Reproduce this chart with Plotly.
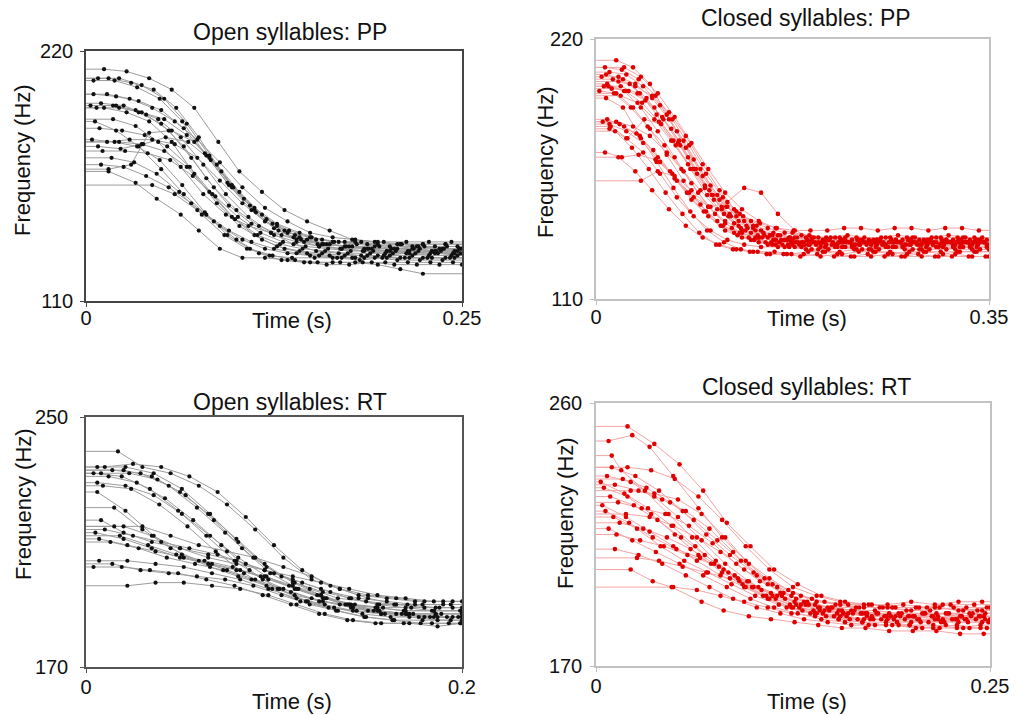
import plotly.graph_objects as go

W, H = 1022, 715

# ---------------- data (time in ms, F0 in Hz), one contour per row ----------------
# Panel 1: Open syllables: PP
OPEN_PP_T = [
    [12,27,42,57,72,88,102,117,132,147,162,177,192,207,221,238],
    [8,22,37,52,67,82,97,112,127,142,157,172,187,202,217,232,247],
    [15,30,45,60,75,90,105,120,135,150,165,180,195,210,225,240],
    [5,19,34,49,64,79,94,109,124,139,154,169,184,199,214,229,244],
    [14,29,44,59,74,89,104,119,134,149,164,179,194,209,224,239],
    [10,25,40,55,70,85,100,115,130,145,160,175,190,205,220,235,249],
    [3,18,33,48,63,78,93,108,123,138,153,168,183,198,213,228,243],
    [20,35,50,65,80,95,110,125,140,155,170,185,200,215,230,245],
    [7,22,37,52,67,82,97,112,127,142,157,172,187,202,217,232,247],
    [12,27,42,57,72,87,102,117,132,147,162,177,192,207,222,237],
    [18,33,48,63,78,93,108,123,138,153,168,183,198,213,228,243],
    [6,20,35,50,65,80,95,110,125,140,155,170,185,200,215,230,245],
    [15,30,42,57,72,87,102,117,132,147,162,177,192,207,222,237],
    [9,24,39,54,69,84,99,114,129,144,159,174,189,204,219,234,249],
    [4,19,34,49,64,79,94,109,124,139,154,169,184,199,214,229,244],
    [14,29,44,59,74,89,104,119,134,149,164,179,194,209,224,239],
    [22,37,52,67,82,97,112,127,142,157,172,187,202,217,232,247],
    [8,23,38,53,68,83,98,113,128,143,158,173,188,203,218,233,248],
    [11,26,41,56,71,86,101,116,131,146,161,176,191,206,221,236],
    [17,32,47,62,77,92,107,122,137,152,167,182,197,212,227,242],
    [10,25,40,55,70,85,100,115,130,145,160,175,190,205,220,235,250],
    [15,33,47,63,75,89,104,119,134,149,164,179,194,209,224],
    [44,59,74,89,104,119,134,149,164,179,194,209,224,239],
    [5,20,35,50,65,80,95,110,125,140,155,170,185,200,215,230,245],
]
OPEN_PP_F = [
    [212,211,208,203,195,180,167,158,150,145,141,137,136,135,134,133],
    [208,208,205,199,188,174,160,150,143,138,135,134,133,132,133,132,132],
    [208,206,203,195,182,167,155,146,141,138,136,135,134,135,134,134],
    [207,207,204,199,189,175,162,152,144,139,135,133,132,131,132,131,131],
    [201,199,195,189,181,171,160,151,145,140,138,137,136,135,135,135],
    [197,196,192,185,173,160,150,143,139,136,135,134,133,133,134,133,133],
    [196,196,194,190,182,170,157,147,140,135,132,131,130,130,131,130,130],
    [196,193,188,178,164,152,144,139,136,134,133,133,132,132,132,132],
    [195,195,193,190,183,173,161,151,144,140,137,136,135,134,134,134,134],
    [195,193,189,180,166,153,143,137,133,131,130,129,129,128,128,128],
    [190,187,180,169,157,148,143,140,138,137,136,136,136,136,136,136],
    [189,185,178,168,157,148,141,136,133,131,130,129,129,129,129,129,129],
    [168,170,184,185,180,170,158,148,141,137,135,134,134,133,133,133],
    [186,185,183,178,169,157,146,139,135,133,132,131,131,131,131,131,131],
    [181,180,178,172,161,149,139,133,130,128,127,127,127,127,127,127,127],
    [180,181,181,179,173,163,153,145,140,138,136,136,135,135,135,135],
    [180,179,176,169,158,147,139,134,132,131,130,130,130,130,131,130],
    [178,177,179,182,180,172,160,149,141,137,135,134,133,133,133,132,133],
    [176,176,175,172,165,156,147,140,136,134,133,132,132,132,132,132],
    [173,171,166,158,148,139,133,130,129,129,129,128,129,129,129,129],
    [170,169,165,160,153,145,137,131,128,127,126,126,127,126,126,126,126],
    [167,162,155,148,141,133,129,129,128,127,127,127,126,124,122],
    [161,157,150,143,137,133,131,130,129,129,130,129,129,129],
    [201,200,198,194,186,174,161,150,142,137,134,133,132,132,131,132,131],
]

# Panel 2: Closed syllables: PP
CLOSED_PP_T = [
    [18,33,48,63,78,93,108,123,138,153,168,183,198,213,228,243,258,273,288,303,318,333,348],
    [8,23,38,53,68,83,98,113,128,143,158,173,188,203,218,233,248,263,278,293,308,323,338],
    [12,27,42,57,72,87,102,117,132,147,162,177,192,207,222,237,252,267,282,297,312,327,342],
    [5,20,35,50,65,80,95,110,125,140,155,170,185,200,215,230,245,260,275,290,305,320,335,350],
    [15,30,45,60,75,90,105,120,135,150,165,180,195,210,225,240,255,270,285,300,315,330,345],
    [20,35,50,65,80,95,110,125,140,155,170,185,200,215,230,245,260,275,290,305,320,335,350],
    [10,25,40,55,70,85,100,115,130,145,160,175,190,205,220,235,250,265,280,295,310,325,340],
    [7,22,37,52,67,82,97,112,127,142,157,172,187,202,217,232,247,262,277,292,307,322,337],
    [14,29,44,59,74,89,104,119,134,149,164,179,194,209,224,239,254,269,284,299,314,329,344],
    [3,18,33,48,63,78,93,108,123,138,153,168,183,198,213,228,243,258,273,288,303,318,333,348],
    [16,31,46,61,76,91,106,121,136,151,166,181,196,211,226,241,256,271,286,301,316,331,346],
    [9,24,39,54,69,84,99,114,129,144,159,174,189,204,219,234,249,264,279,294,309,324,339],
    [10,25,40,55,70,85,100,115,130,145,160,175,190,205,220,235,250,265,280,295,310,325,340],
    [6,21,36,51,66,81,96,111,126,141,156,171,186,201,216,231,246,261,276,291,306,321,336],
    [13,28,43,58,73,88,103,118,133,148,163,178,193,208,223,238,253,268,283,298,313,328,343],
    [12,27,42,57,72,87,102,117,132,147,162,177,192,207,222,237,252,267,282,297,312,327,342],
    [17,32,47,62,77,92,107,122,137,152,167,182,197,212,227,242,257,272,287,302,317,332,347],
    [8,23,38,53,68,83,98,113,128,143,158,173,188,203,218,233,248,263,278,293,308,323,338],
    [40,55,70,85,100,115,130,145,160,175,190,205,220,235,250,265,280,295,310,325,340],
    [12,27,42,57,72,87,102,117,132,147,162,177,192,207,222,237,252,267,282,297,312,327,342],
    [20,35,50,65,80,95,110,125,140,155,170,185,200,215,230,245,260,275,290,305,320,335,350],
    [25,40,55,70,85,100,115,130,145,160,175,190,205,220,235,250,265,280,295,310,325,340],
    [9,24,39,54,69,84,99,114,129,144,159,174,189,204,219,234,249,264,279,294,309,324,339],
    [11,26,41,56,71,86,101,116,131,146,161,176,191,206,221,236,251,266,281,296,311,326,341],
    [22,37,52,67,82,97,112,127,142,157,172,187,202,217,232,247,262,277,292,307,322,337],
    [18,33,48,63,78,93,108,123,138,153,168,183,198,213,228,243,258,273,288,303,318,333,348],
]
CLOSED_PP_F = [
    [211,208,201,188,177,165,154,148,143,140,138,137,136,136,135,135,136,135,135,136,135,135,135],
    [208,207,203,196,186,175,163,153,146,141,138,136,135,134,134,135,134,134,135,134,134,134,134],
    [206,205,200,192,181,169,158,149,143,139,137,136,135,135,136,135,135,135,136,135,135,136,135],
    [204,204,201,195,186,174,162,152,145,140,137,135,134,133,133,133,133,132,133,133,132,133,133,133],
    [203,201,195,186,175,163,152,145,140,137,135,134,134,133,134,134,133,134,134,133,134,134,134],
    [202,200,196,189,179,167,156,147,141,137,135,133,132,132,131,131,132,131,131,132,131,131,131],
    [201,198,191,181,170,159,149,142,138,136,135,135,134,135,134,134,135,134,135,134,134,135,134],
    [200,200,197,191,182,170,158,148,141,136,133,132,131,130,130,131,130,130,129,130,130,130,130],
    [199,198,194,187,177,165,154,146,141,138,137,136,136,136,137,136,136,137,136,136,137,136,136],
    [198,197,191,182,171,160,150,143,138,135,133,132,132,131,132,132,131,132,132,131,132,132,132,132],
    [197,191,183,175,165,155,146,140,136,134,133,133,133,134,134,133,134,134,133,134,134,134,134],
    [195,191,179,168,157,147,139,134,131,130,130,129,130,130,129,130,130,129,130,130,129,130,130],
    [186,183,178,170,161,152,145,139,136,134,133,133,133,133,132,133,133,132,133,133,133,132,133],
    [185,184,180,173,164,155,147,141,137,135,134,133,133,134,134,133,134,134,133,134,133,134,134],
    [183,178,186,184,176,165,154,145,139,136,134,134,134,135,134,134,135,134,134,135,134,134,135],
    [182,178,172,163,153,145,139,135,133,132,132,132,131,131,132,131,131,132,131,131,131,132,131],
    [181,174,165,155,146,138,133,131,130,129,129,128,129,128,128,129,128,128,129,128,128,128,128],
    [172,170,171,169,163,155,147,141,138,136,135,135,135,134,135,135,134,135,135,134,135,135,135],
    [160,164,162,156,149,143,139,136,135,134,133,133,134,133,133,134,133,133,134,133,133],
    [184,181,176,168,160,153,149,151,157,155,146,139,136,135,135,134,134,135,134,134,135,134,134],
    [170,164,156,148,141,136,133,131,130,129,129,129,128,129,128,128,129,128,128,128,129,128,128],
    [208,204,197,187,176,165,155,148,143,140,138,137,136,135,135,135,134,135,135,134,135,135],
    [205,203,197,188,177,165,154,146,140,137,135,134,133,132,132,133,132,132,133,132,132,132,132],
    [200,198,193,185,175,165,156,149,145,142,140,139,139,139,140,140,139,140,140,139,140,140,139],
    [196,193,186,177,167,157,149,143,139,137,136,136,135,136,136,135,136,136,135,136,136,136],
    [185,183,179,172,164,156,148,142,138,136,135,134,134,133,133,134,133,133,133,134,133,133,133],
]

# Panel 3: Open syllables: RT
OPEN_RT_T = [
    [17,30,45,60,75,90,105,120,135,150,165,180,195],
    [10,25,40,55,70,85,100,115,130,145,160,175,190],
    [6,21,36,51,66,81,96,111,126,141,156,171,186,200],
    [14,29,44,59,74,89,104,119,134,149,164,179,194],
    [20,35,50,65,80,95,110,125,140,155,170,185,200],
    [8,23,38,53,68,83,98,113,128,143,158,173,188],
    [4,19,34,49,64,79,94,109,124,139,154,169,184,199],
    [12,27,42,57,72,87,102,117,132,147,162,177,192],
    [6,21,36,51,66,81,96,111,126,141,156,171,186,200],
    [9,24,39,54,69,84,99,114,129,144,159,174,189],
    [6,21,36,51,66,81,96,111,126,141,156,171,186,200],
    [15,30,45,60,75,90,105,120,135,150,165,180,195],
    [8,20,35,50,65,80,95,110,125,140,155,170,185,200],
    [15,30,45,60,75,90,105,120,135,150,165,180,195],
    [10,25,40,55,70,85,100,115,130,145,160,175,190],
    [5,20,35,50,65,80,95,110,125,140,155,170,185,200],
    [18,33,48,63,78,93,108,123,138,153,168,183,198],
    [7,22,37,52,67,82,97,112,127,142,157,172,187,200],
    [13,28,43,58,73,88,103,118,133,148,163,178,193],
    [7,22,37,52,67,82,97,112,127,142,157,172,187,200],
    [14,29,44,59,74,89,104,119,134,149,164,179,194],
    [4,19,34,49,64,79,94,109,124,139,154,169,184,199],
    [22,37,52,67,82,97,112,127,142,157,172,187,200],
    [20,35,50,65,80,95,110,125,140,155,170,185,200],
]
OPEN_RT_F = [
    [239,234,232,228,222,214,205,198,195,193,192,191,191],
    [234,235,234,231,226,218,209,201,196,193,192,191,191],
    [234,234,232,227,219,210,202,197,194,192,190,190,189,189],
    [233,232,228,221,213,205,199,195,192,191,190,190,190],
    [233,231,226,219,211,203,197,193,190,189,188,188,188],
    [232,232,230,225,217,208,200,195,192,190,189,189,189],
    [232,231,227,220,212,204,198,194,191,190,189,188,188,188],
    [231,229,224,217,209,201,195,191,189,187,186,186,186],
    [229,228,225,219,212,205,199,195,192,190,188,187,187,187],
    [228,227,222,215,207,200,195,191,189,188,187,187,187],
    [226,220,212,206,202,199,196,193,191,189,188,187,187,187],
    [221,214,208,204,201,198,195,192,190,188,187,186,186],
    [217,213,210,208,206,204,201,198,195,192,190,189,188,188],
    [215,215,212,209,207,205,202,199,195,192,190,189,189],
    [214,212,210,208,206,203,200,197,194,192,191,190,190],
    [213,211,208,205,203,201,199,196,193,190,188,187,186,186],
    [212,209,206,204,202,199,196,193,190,188,187,186,186],
    [211,209,207,205,203,201,198,195,192,189,187,186,185,185],
    [210,208,205,203,201,198,195,191,188,186,185,184,184],
    [204,204,203,202,200,198,195,192,190,188,187,187,186,186],
    [203,201,200,199,198,196,193,190,188,186,185,185,185],
    [202,202,201,200,198,196,193,190,187,185,184,184,184,184],
    [196,197,197,196,195,193,190,187,185,184,184,183,184],
    [215,212,208,205,203,201,199,197,195,193,192,191,191],
]

# Panel 4: Closed syllables: RT
CLOSED_RT_T = [
    [20,37,53,68,83,98,113,128,143,158,173,188,203,218,233,248],
    [8,23,34,49,65,80,95,110,125,140,155,170,185,200,215,230,245],
    [10,16,31,46,61,76,91,106,121,136,151,166,181,196,211,226,241],
    [10,25,40,55,70,85,100,115,130,145,160,175,190,205,220,235,250],
    [7,22,37,52,67,82,97,112,127,142,157,172,187,202,217,232,247],
    [17,32,47,62,77,92,107,122,137,152,167,182,197,212,227,242],
    [12,27,42,57,72,87,102,117,132,147,162,177,192,207,222,237],
    [5,20,35,50,65,80,95,110,125,140,155,170,185,200,215,230,245],
    [22,37,52,67,82,97,112,127,142,157,172,187,202,217,232,247],
    [9,24,39,54,69,84,99,114,129,144,159,174,189,204,219,234,249],
    [14,29,44,59,74,89,104,119,134,149,164,179,194,209,224,239],
    [4,19,34,49,64,79,94,109,124,139,154,169,184,199,214,229,244],
    [6,21,36,51,66,81,96,111,126,141,156,171,186,201,216,231,246],
    [19,34,49,64,79,94,109,124,139,154,169,184,199,214,229,244],
    [11,26,41,56,71,86,101,116,131,146,161,176,191,206,221,236],
    [15,30,45,60,75,90,105,120,135,150,165,180,195,210,225,240],
    [8,23,38,53,68,83,98,113,128,143,158,173,188,203,218,233,248],
    [13,28,43,58,73,88,103,118,133,148,163,178,193,208,223,238],
    [26,40,55,70,85,100,115,130,145,160,175,190,205,220,235,250],
    [22,36,48,67,81,97,111,126,141,156,171,186,201,216,231,246],
    [49,64,79,94,109,124,139,154,169,184,199,214,229,244],
    [12,27,42,57,72,87,102,117,132,147,162,177,192,207,222,237],
    [20,35,50,65,80,95,110,125,140,155,170,185,200,215,230,245],
    [3,18,33,48,63,78,93,108,123,138,153,168,183,198,213,228,243],
]
CLOSED_RT_F = [
    [252,246,239,230,219,211,203,198,194,192,191,190,190,190,189,190],
    [247,249,245,235,224,214,206,200,195,192,191,190,190,189,190,189,189],
    [242,237,230,222,214,206,199,194,190,188,187,186,186,186,185,186,186],
    [238,235,230,223,215,208,202,197,194,192,191,191,190,190,191,190,190],
    [235,233,228,221,213,205,199,194,191,189,188,188,187,187,187,187,188],
    [234,231,226,220,213,206,200,196,193,191,190,190,189,189,190,189],
    [232,230,227,223,217,209,201,195,192,190,189,189,188,188,188,188],
    [231,228,222,215,208,202,197,193,190,188,187,186,186,185,186,185,185],
    [230,229,227,222,214,205,198,193,190,188,187,187,187,186,187,186],
    [228,225,220,214,208,202,197,193,190,188,187,186,186,186,185,186,185],
    [226,224,222,218,212,205,199,195,192,190,189,188,188,188,188,188],
    [225,221,216,211,206,201,197,193,190,188,186,185,184,184,183,184,183],
    [223,219,214,210,207,203,199,195,192,190,189,188,188,187,188,187,187],
    [222,221,218,214,209,203,198,194,191,189,188,187,187,187,186,187],
    [221,217,211,206,202,198,194,191,189,187,186,186,185,185,185,185],
    [219,217,214,210,205,200,196,193,191,190,190,190,191,190,191,191],
    [217,213,209,205,201,197,193,190,188,186,185,184,184,183,183,183,183],
    [215,213,211,208,205,201,197,194,191,189,188,188,187,188,188,187],
    [207,206,204,202,200,197,194,191,189,188,187,187,186,186,186,186],
    [203,199,197,192,189,187,186,185,184,183,183,182,182,182,181,181],
    [197,196,194,192,190,188,187,186,185,185,184,184,183,184],
    [210,208,205,201,197,193,190,188,186,185,184,184,184,183,184,183],
    [238,237,234,228,220,211,203,197,194,192,191,191,192,191,192,192],
    [233,229,224,218,211,204,198,194,191,189,188,188,187,187,187,186,187],
]

TITLES = ["Open syllables: PP", "Closed syllables: PP", "Open syllables: RT", "Closed syllables: RT"]
X_MAX = [0.25, 0.35, 0.2, 0.25]
X_MAX_TEXT = ["0.25", "0.35", "0.2", "0.25"]
Y_RANGE = [(110, 220), (110, 220), (170, 250), (170, 260)]

# ---------------- styling / layout (pixels) ----------------
FONT = "Liberation Sans, Arial, Helvetica, sans-serif"
BOX = [(86, 51, 462, 301), (596, 39, 989, 299), (86, 417, 462, 667), (596, 403, 990, 666)]
TITLE_POS = [(290, 32), (806, 18), (290, 402), (806, 387)]
XLAB_POS = [(292, 321), (807, 318), (292, 701), (807, 701)]
YLAB_POS = [(23, 160), (545, 162), (23, 504), (565, 513)]
XTICK_STANDOFF = [-6, -5, -3, -3]
YTICK_STANDOFF = [3, 3, 8, 4]
MARK_COL = ["#111111", "#e00000", "#111111", "#e00000"]
MARK_SIZE = [4.2, 4.6, 4.2, 4.6]
LINE_COL = ["#9c9c9c", "#f4a4a4", "#9c9c9c", "#f4a4a4"]
FRAME_COL = ["#444444", "#c2c2c2", "#555555", "#c2c2c2"]

data_sets = [(OPEN_PP_T, OPEN_PP_F), (CLOSED_PP_T, CLOSED_PP_F),
             (OPEN_RT_T, OPEN_RT_F), (CLOSED_RT_T, CLOSED_RT_F)]

fig = go.Figure()
annotations = []
layout = {}

for i, (Ts, Fs) in enumerate(data_sets):
    n = i + 1
    xa = "x" if n == 1 else f"x{n}"
    ya = "y" if n == 1 else f"y{n}"
    xmax = X_MAX[i]
    lx, ly, mx, my = [], [], [], []
    for t, f in zip(Ts, Fs):
        k = min(len(t), len(f))
        ts = [v / 1000.0 for v in t[:k]]
        fs = list(f[:k])
        lx += [0.0] + ts + [xmax, None]
        ly += [fs[0]] + fs + [fs[-1], None]
        mx += ts
        my += fs
    fig.add_trace(go.Scatter(x=lx, y=ly, mode="lines", xaxis=xa, yaxis=ya,
                             line=dict(color=LINE_COL[i], width=1), hoverinfo="skip",
                             showlegend=False))
    fig.add_trace(go.Scatter(x=mx, y=my, mode="markers", xaxis=xa, yaxis=ya,
                             marker=dict(color=MARK_COL[i], size=MARK_SIZE[i], line=dict(width=0)),
                             showlegend=False))
    x0, y0, x1, y1 = BOX[i]
    ymin, ymax = Y_RANGE[i]
    axcommon = dict(showline=True, mirror=True, linecolor=FRAME_COL[i], linewidth=1.5,
                    showgrid=False, zeroline=False, ticks="outside", ticklen=4,
                    tickcolor=FRAME_COL[i], tickwidth=1.2, automargin=False,
                    tickfont=dict(family=FONT, size=20, color="#111111"))
    layout["xaxis" if n == 1 else f"xaxis{n}"] = dict(
        domain=[x0 / W, x1 / W], range=[0, xmax], anchor=ya,
        tickvals=[0, xmax], ticktext=["0", X_MAX_TEXT[i]],
        ticklabelstandoff=XTICK_STANDOFF[i], **axcommon)
    layout["yaxis" if n == 1 else f"yaxis{n}"] = dict(
        domain=[1 - y1 / H, 1 - y0 / H], range=[ymin, ymax], anchor=xa,
        tickvals=[ymin, ymax], ticktext=[str(ymin), str(ymax)],
        ticklabelstandoff=YTICK_STANDOFF[i], **axcommon)
    tx, ty = TITLE_POS[i]
    annotations.append(dict(text=TITLES[i], x=tx / W, y=1 - ty / H, xref="paper", yref="paper",
                            showarrow=False, xanchor="center", yanchor="middle",
                            font=dict(family=FONT, size=23, color="#111111")))
    ax_, ay_ = XLAB_POS[i]
    annotations.append(dict(text="Time (s)", x=ax_ / W, y=1 - ay_ / H, xref="paper", yref="paper",
                            showarrow=False, xanchor="center", yanchor="middle",
                            font=dict(family=FONT, size=22, color="#111111")))
    bx, by = YLAB_POS[i]
    annotations.append(dict(text="Frequency (Hz)", x=bx / W, y=1 - by / H, xref="paper",
                            yref="paper", showarrow=False, xanchor="center", yanchor="middle",
                            textangle=-90, font=dict(family=FONT, size=22, color="#111111")))

fig.update_layout(width=W, height=H, margin=dict(l=0, r=0, t=0, b=0, autoexpand=False),
                  paper_bgcolor="white", plot_bgcolor="white", showlegend=False,
                  annotations=annotations, **layout)

fig.write_html("out.html", config={"displayModeBar": False})
